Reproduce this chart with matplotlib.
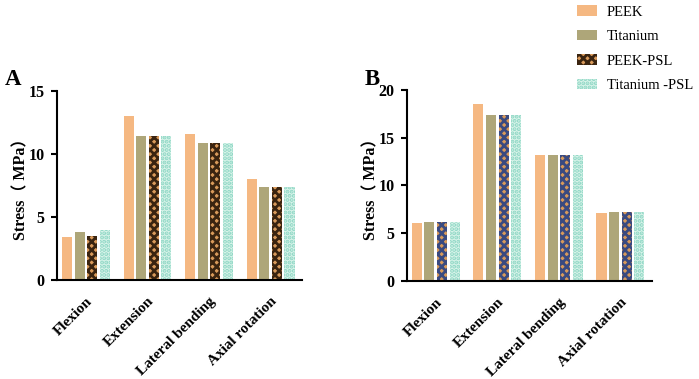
import numpy as np
import matplotlib
matplotlib.use('Agg')
import matplotlib.pyplot as plt

plt.rcParams['font.family'] = ['Liberation Serif', 'Noto Sans CJK SC']
plt.rcParams['hatch.linewidth'] = 2.0

categories = ['Flexion', 'Extension', 'Lateral bending', 'Axial rotation']
series = ['PEEK', 'Titanium', 'PEEK-PSL', 'Titanium -PSL']

# panel A stress values (MPa)
a_peek = [3.4, 13.0, 11.6, 8.0]
a_ti = [3.8, 11.4, 10.9, 7.4]
a_peek_psl = [3.5, 11.4, 10.9, 7.4]
a_ti_psl = [4.0, 11.4, 10.9, 7.4]

# panel B stress values (MPa)
b_peek = [6.1, 18.5, 13.2, 7.1]
b_ti = [6.2, 17.4, 13.2, 7.2]
b_peek_psl = [6.2, 17.4, 13.2, 7.2]
b_ti_psl = [6.2, 17.4, 13.2, 7.2]


def draw_panel(ax, vals, ymax, psl_dark):
    x = np.arange(len(categories))
    styles = [
        dict(facecolor='#f5b882', edgecolor='#f5b882', hatch=None),
        dict(facecolor='#aea679', edgecolor='#aea679', hatch=None),
        dict(facecolor='#d99a5a', edgecolor=psl_dark, hatch='xxxx'),
        dict(facecolor='#d9f4ea', edgecolor='#8dd6c4', hatch='....'),
    ]
    w = 0.163
    step = 0.205
    for i, (v, st) in enumerate(zip(vals, styles)):
        ax.bar(x + (i - 1.5) * step, v, width=w, label=series[i],
               facecolor=st['facecolor'], edgecolor=st['edgecolor'],
               hatch=st['hatch'], linewidth=0)
    ax.set_xlim(-0.47, 3.51)
    ax.set_ylim(0, ymax)
    ax.set_yticks(np.arange(0, ymax + 1, 5))
    ax.set_xticks(x)
    ax.set_xticklabels(categories, rotation=45, ha='right',
                       rotation_mode='anchor', fontweight='bold', fontsize=11)
    for t in ax.get_yticklabels():
        t.set_fontweight('bold')
        t.set_fontsize(11.5)
    ax.tick_params(axis='x', length=0, pad=10.5)
    ax.tick_params(axis='y', length=4, width=1.5, direction='out', pad=5)
    ax.spines['top'].set_visible(False)
    ax.spines['right'].set_visible(False)
    ax.spines['left'].set_linewidth(1.5)
    ax.spines['bottom'].set_linewidth(1.5)
    ax.set_ylabel('Stress（ MPa）', fontweight='bold', fontsize=11.5)
    ax.yaxis.set_label_coords(-0.112, 0.5)


fig = plt.figure(figsize=(6.99, 3.79), dpi=100)
ax_a = fig.add_axes([0.0815, 0.261, 0.3505, 0.499])
ax_b = fig.add_axes([0.582, 0.259, 0.3505, 0.504])

draw_panel(ax_a, [a_peek, a_ti, a_peek_psl, a_ti_psl], 15, '#3a2410')
draw_panel(ax_b, [b_peek, b_ti, b_peek_psl, b_ti_psl], 20, '#3a4a80')

fig.text(0.007, 0.789, 'A', fontsize=16.5, fontweight='bold', va='center')
fig.text(0.522, 0.789, 'B', fontsize=16.5, fontweight='bold', va='center')

handles, labels = ax_a.get_legend_handles_labels()
fig.legend(handles, labels, loc='upper left', bbox_to_anchor=(0.8255, 0.986),
           frameon=False, fontsize=10.5, handlelength=1.37, handleheight=0.7,
           labelspacing=0.78, handletextpad=0.68, borderpad=0,
           borderaxespad=0)

fig.savefig('out.png', dpi=100)
